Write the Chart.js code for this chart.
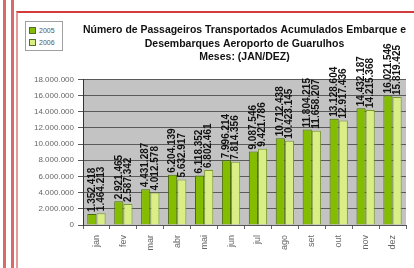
<!DOCTYPE html>
<html lang="pt-BR">
<head>
<meta charset="utf-8">
<title>Passageiros Guarulhos</title>
<script src="https://cdn.jsdelivr.net/npm/chart.js@4.4.1/dist/chart.umd.min.js"></script>
<style>
    body {
        margin: 0;
        background: #ffffff;
        width: 414px;
        height: 268px;
        overflow: hidden;
        position: relative;
        font-family: "Liberation Sans", Arial, sans-serif;
    }
    .faixa {
        position: absolute;
        top: 0;
        bottom: 0;
        width: 3px;
        background: #d86a6a;
    }
    #painel {
        position: absolute;
        left: 16px;
        top: 11px;
        width: 400px;
        height: 255px;
        border-top: 2px solid #d23c3c;
        border-left: 2px solid #e89a9a;
        border-bottom: 2px solid #e07070;
    }
    #myChart {
        position: absolute;
        left: 17px;
        top: 13px;
    }
    #legenda {
        position: absolute;
        left: 25px;
        top: 21px;
        width: 36px;
        height: 28px;
        border: 1px solid #a0a0a0;
        background: #ffffff;
        font-size: 7px;
        color: #555555;
    }
    .item {
        position: absolute;
        left: 3px;
        height: 8px;
        line-height: 8px;
    }
    .item span {
        display: inline-block;
        width: 5px;
        height: 5px;
        margin-right: 3px;
        border: 1px solid #556b2f;
        vertical-align: -1px;
    }
</style>
</head>
<body>
<div class="faixa" style="left: 3px;"></div>
<div class="faixa" style="left: 11px;"></div>
<div id="painel"></div>
<canvas id="myChart" width="397" height="253"></canvas>
<div id="legenda"></div>

<script>
// Dados do grafico (passageiros acumulados)
const meses = ['jan', 'fev', 'mar', 'abr', 'mai', 'jun', 'jul', 'ago', 'set', 'out', 'nov', 'dez'];
const anos = ['2005', '2006'];
const passageiros2005 = [1352418, 2921465, 4431287, 6204139, 6118352, 7996214, 9087546, 10712438, 11804215, 13128604, 14432187, 16021546];
const passageiros2006 = [1464213, 2587342, 4012578, 5632917, 6802461, 7814356, 9421786, 10423145, 11658207, 12917436, 14215368, 15819425];
const ticksY = [0, 2000000, 4000000, 6000000, 8000000, 10000000, 12000000, 14000000, 16000000, 18000000];

const corEscura = '#84bd00';
const corClara = '#d9ef86';

function formatar(n) {
    return String(n).replace(/\B(?=(\d{3})+(?!\d))/g, '.');
}

// fundo cinza da area do grafico
const fundoCinza = {
    id: 'fundoCinza',
    beforeDraw(chart) {
        const a = chart.chartArea;
        const ctx = chart.ctx;
        ctx.save();
        ctx.fillStyle = '#c3c3c3';
        ctx.fillRect(a.left, a.top, a.right - a.left, a.bottom - a.top);
        ctx.restore();
    }
};

// rotulos verticais em cima das barras
const rotulos = {
    id: 'rotulos',
    afterDatasetsDraw(chart) {
        const ctx = chart.ctx;
        ctx.save();
        ctx.font = 'bold 10px "Liberation Sans", Arial, sans-serif';
        ctx.fillStyle = '#111111';
        ctx.textAlign = 'left';
        ctx.textBaseline = 'middle';
        chart.data.datasets.forEach(function (ds, i) {
            const meta = chart.getDatasetMeta(i);
            meta.data.forEach(function (barra, j) {
                ctx.save();
                ctx.translate(barra.x, barra.y - 2);
                ctx.rotate(-Math.PI / 2);
                ctx.fillText(formatar(ds.data[j]), 0, 0);
                ctx.restore();
            });
        });
        ctx.restore();
    }
};

const ctx = document.getElementById('myChart');

const grafico = new Chart(ctx, {
    type: 'bar',
    data: {
        labels: meses,
        datasets: [{
            label: anos[0],
            data: passageiros2005,
            backgroundColor: corEscura,
            borderColor: '#4a6a0a',
            borderWidth: 1
        }, {
            label: anos[1],
            data: passageiros2006,
            backgroundColor: corClara,
            borderColor: '#7a9a30',
            borderWidth: 1
        }]
    },
    options: {
        responsive: false,
        animation: false,
        devicePixelRatio: 1,
        layout: {
            padding: { left: 0, right: 8, top: 0, bottom: 0 }
        },
        datasets: {
            bar: {
                categoryPercentage: 0.68,
                barPercentage: 1.0
            }
        },
        plugins: {
            legend: { display: false },
            tooltip: { enabled: false },
            title: {
                display: true,
                fullSize: false,
                text: [
                    'Número de Passageiros Transportados Acumulados Embarque e',
                    'Desembarques Aeroporto de Guarulhos',
                    'Meses: (JAN/DEZ)'
                ],
                color: '#111111',
                font: { family: '"Liberation Sans", Arial, sans-serif', size: 10.5, weight: 'bold', lineHeight: 1.25 },
                padding: { top: 11, bottom: 16 }
            }
        },
        scales: {
            x: {
                grid: {
                    drawOnChartArea: false,
                    drawTicks: true,
                    tickLength: 4,
                    color: '#666666'
                },
                border: { color: '#555555' },
                ticks: {
                    minRotation: 90,
                    maxRotation: 90,
                    padding: 6,
                    color: '#666666',
                    font: { family: '"Liberation Sans", Arial, sans-serif', size: 9 }
                },
                afterFit(escala) {
                    escala.height = 41;
                }
            },
            y: {
                min: 0,
                max: 18000000,
                afterBuildTicks(escala) {
                    escala.ticks = ticksY.map(v => ({ value: v }));
                },
                grid: {
                    color: '#5a5a5a',
                    tickLength: 5
                },
                border: { color: '#333333' },
                ticks: {
                    padding: 4,
                    color: '#666666',
                    font: { family: '"Liberation Sans", Arial, sans-serif', size: 8 },
                    callback: function (v) { return formatar(v); }
                },
                afterFit(escala) {
                    escala.width = 66;
                }
            }
        }
    },
    plugins: [fundoCinza, rotulos]
});

// legenda em html
const legenda = document.getElementById('legenda');
const cores = [corEscura, corClara];
anos.forEach(function (ano, i) {
    const item = document.createElement('div');
    item.className = 'item';
    item.style.top = (5 + i * 12) + 'px';
    item.innerHTML = '<span style="background:' + cores[i] + '"></span>' + ano;
    legenda.appendChild(item);
});
</script>
</body>
</html>
